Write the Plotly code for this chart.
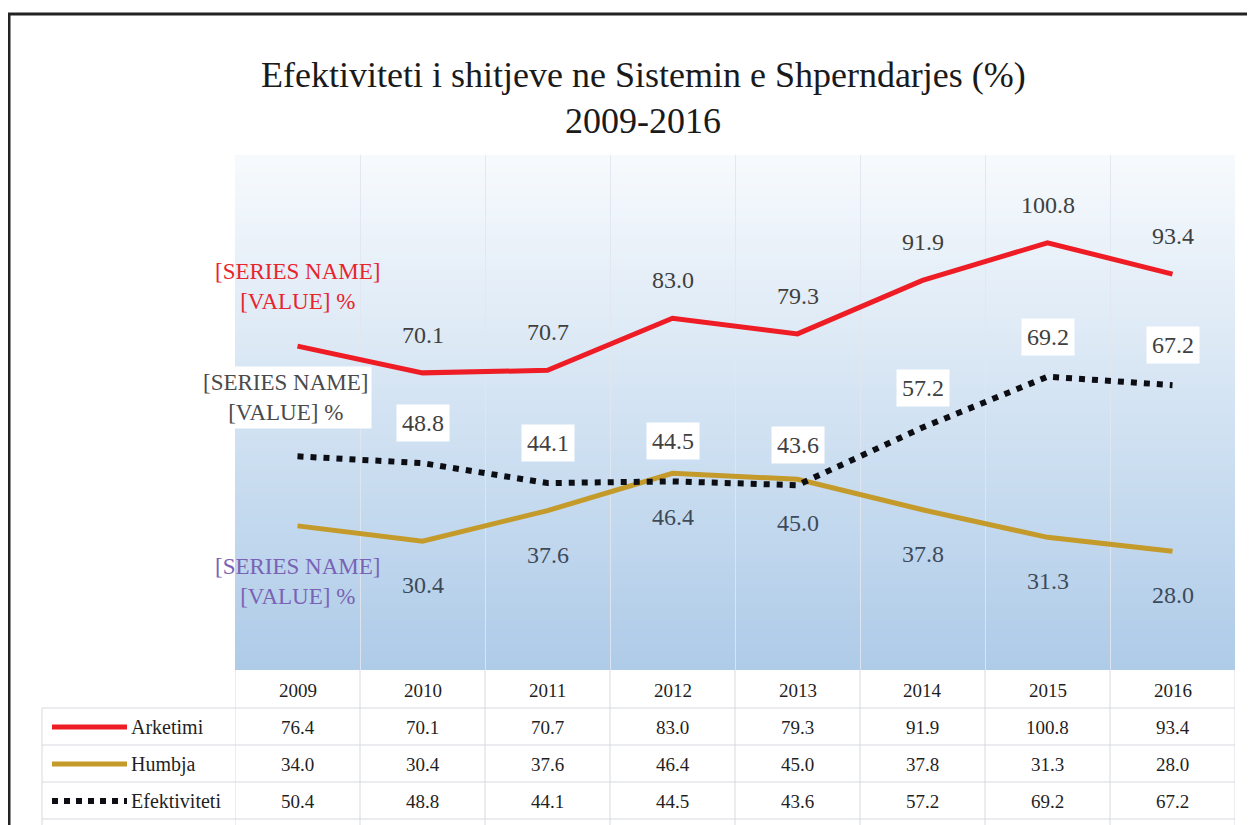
import plotly.graph_objects as go

years = ["2009", "2010", "2011", "2012", "2013", "2014", "2015", "2016"]
arketimi = [76.4, 70.1, 70.7, 83.0, 79.3, 91.9, 100.8, 93.4]
humbja = [34.0, 30.4, 37.6, 46.4, 45.0, 37.8, 31.3, 28.0]
efektiviteti = [50.4, 48.8, 44.1, 44.5, 43.6, 57.2, 69.2, 67.2]
series_names = ["Arketimi", "Humbja", "Efektiviteti"]
title_lines = ["Efektiviteti i shitjeve ne Sistemin e Shperndarjes (%)", "2009-2016"]
placeholder = "[SERIES NAME]<br>[VALUE] %"

W, H = 1255, 825
OFF = 8  # page body margin offset
FONT = "Liberation Serif"
RED = "#ee1c24"
GOLD = "#c49a2a"
BLACK = "#0d0d14"


def xp(px):
    return (px - OFF) / W


def yp(py):
    return (H - (py - OFF)) / H


PLOT_L, PLOT_R, PLOT_T, PLOT_B = 235, 1235, 155, 670

fig = go.Figure()
fig.add_trace(go.Scatter(x=years, y=arketimi, mode="lines", name=series_names[0],
                         line=dict(color=RED, width=5)))
fig.add_trace(go.Scatter(x=years, y=humbja, mode="lines", name=series_names[1],
                         line=dict(color=GOLD, width=5)))
fig.add_trace(go.Scatter(x=years, y=efektiviteti, mode="lines", name=series_names[2],
                         line=dict(color=BLACK, width=6, dash="6px,7px")))

shapes = []
# gradient background of plot area
N = 90
top_c = (247, 250, 253)
bot_c = (174, 203, 232)
for k in range(N):
    t = (k + 0.5) / N
    c = tuple(int(round(top_c[j] + (bot_c[j] - top_c[j]) * t)) for j in range(3))
    y0 = PLOT_T + (PLOT_B - PLOT_T) * k / N
    y1 = PLOT_T + (PLOT_B - PLOT_T) * (k + 1) / N + 0.8
    shapes.append(dict(type="rect", xref="paper", yref="paper",
                       x0=xp(PLOT_L), x1=xp(PLOT_R), y0=yp(min(y1, PLOT_B)), y1=yp(y0),
                       fillcolor="rgb(%d,%d,%d)" % c, line=dict(width=0), layer="below"))

# table grid
ROW_LINES = [708, 745, 782, 819]
TABLE_L = 42
GRID_C = "#d6d9de"
for ry in ROW_LINES:
    shapes.append(dict(type="line", xref="paper", yref="paper", x0=xp(TABLE_L), x1=xp(PLOT_R),
                       y0=yp(ry), y1=yp(ry), line=dict(color=GRID_C, width=1)))
shapes.append(dict(type="line", xref="paper", yref="paper", x0=xp(TABLE_L), x1=xp(TABLE_L),
                   y0=yp(708), y1=0, line=dict(color=GRID_C, width=1)))
for i in range(len(years) + 1):
    shapes.append(dict(type="line", xref="x", yref="paper", x0=i - 0.5, x1=i - 0.5,
                       y0=yp(PLOT_B), y1=0, line=dict(color=GRID_C, width=1)))

# outer frame (top and left)
shapes.append(dict(type="line", xref="paper", yref="paper", x0=xp(7), x1=1, y0=yp(14), y1=yp(14),
                   line=dict(color="#222222", width=3)))
shapes.append(dict(type="line", xref="paper", yref="paper", x0=xp(9), x1=xp(9), y0=yp(14), y1=0,
                   line=dict(color="#222222", width=3)))

# legend keys in the table
ROW_Y = [690, 727, 764, 801]
key_styles = [dict(color=RED, width=5), dict(color=GOLD, width=5),
              dict(color=BLACK, width=6, dash="6px,6px")]
for r, st in enumerate(key_styles):
    shapes.append(dict(type="line", xref="paper", yref="paper", x0=xp(52), x1=xp(127),
                       y0=yp(ROW_Y[r + 1]), y1=yp(ROW_Y[r + 1]), line=st))

annotations = []
# title
for k, ty in enumerate([75, 121]):
    annotations.append(dict(text=title_lines[k], x=xp(643), y=yp(ty), xref="paper", yref="paper",
                            showarrow=False, font=dict(family=FONT, size=36, color="#1a1a1a"),
                            xanchor="center", yanchor="middle"))

LBL = 24
PH = 23
# data labels
for i, yr in enumerate(years):
    if i == 0:
        annotations.append(dict(text=placeholder, x=i, y=arketimi[i], xref="x", yref="y",
                                showarrow=False, yshift=60,
                                font=dict(family=FONT, size=PH, color="#e8242c")))
        annotations.append(dict(text=placeholder, x=i, y=efektiviteti[i], xref="x", yref="y",
                                showarrow=False, yshift=59, xshift=-12, bgcolor="white", borderpad=3,
                                font=dict(family=FONT, size=PH, color="#4a4a4a")))
        annotations.append(dict(text=placeholder, x=i, y=humbja[i], xref="x", yref="y",
                                showarrow=False, yshift=-56,
                                font=dict(family=FONT, size=PH, color="#7a62b4")))
        continue
    annotations.append(dict(text="%.1f" % arketimi[i], x=i, y=arketimi[i], xref="x", yref="y",
                            showarrow=False, yshift=38,
                            font=dict(family=FONT, size=LBL, color="#404040")))
    annotations.append(dict(text="%.1f" % humbja[i], x=i, y=humbja[i], xref="x", yref="y",
                            showarrow=False, yshift=-44,
                            font=dict(family=FONT, size=LBL, color="#3d4a5a")))
    annotations.append(dict(text="%.1f" % efektiviteti[i], x=i, y=efektiviteti[i], xref="x", yref="y",
                            showarrow=False, yshift=40, bgcolor="white", borderpad=5,
                            font=dict(family=FONT, size=LBL, color="#404040")))

# table text
TBL = 19
for i, yr in enumerate(years):
    annotations.append(dict(text=yr, x=i, y=yp(ROW_Y[0]), xref="x", yref="paper",
                            xanchor="center", yanchor="middle", showarrow=False,
                            font=dict(family=FONT, size=TBL, color="#1f1f1f")))
    for r, vals in enumerate([arketimi, humbja, efektiviteti]):
        annotations.append(dict(text="%.1f" % vals[i], x=i, y=yp(ROW_Y[r + 1]), xref="x", yref="paper",
                                xanchor="center", yanchor="middle", showarrow=False,
                                font=dict(family=FONT, size=TBL, color="#1f1f1f")))
for r, nm in enumerate(series_names):
    annotations.append(dict(text=nm, x=xp(129), y=yp(ROW_Y[r + 1]), xref="paper", yref="paper",
                            xanchor="left", yanchor="middle", showarrow=False,
                            font=dict(family=FONT, size=20, color="#1f1f1f")))

fig.update_layout(
    width=W, height=H,
    margin=dict(l=0, r=0, t=0, b=0),
    paper_bgcolor="white",
    plot_bgcolor="rgba(0,0,0,0)",
    showlegend=False,
    shapes=shapes,
    annotations=annotations,
    xaxis=dict(type="category", domain=[xp(PLOT_L), xp(PLOT_R)], range=[-0.5, 7.5],
               tickson="boundaries", showgrid=True, gridcolor="rgba(225,230,238,0.9)", gridwidth=1,
               showticklabels=False, ticks="", zeroline=False, showline=False, fixedrange=True),
    yaxis=dict(domain=[yp(PLOT_B), yp(PLOT_T)], range=[0, 121.5], showgrid=False,
               showticklabels=False, ticks="", zeroline=False, showline=False),
)

fig.write_html("out.html")
